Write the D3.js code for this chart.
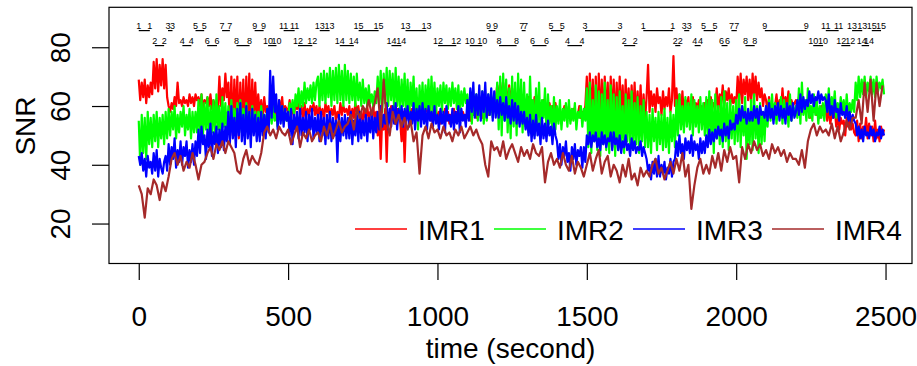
<!DOCTYPE html>
<html lang="en">
<head>
<meta charset="UTF-8">
<title>SNR</title>
<script src="https://d3js.org/d3.v7.min.js"></script>
<style>
  body { margin: 0; background: #fff; }
  text { font-family: "Liberation Sans", Arial, sans-serif; fill: #000; }
</style>
</head>
<body>
<script>
// IMR1..IMR3 read every 5 seconds, IMR4 every 10 seconds
var imr1 = [
  69,62,68,63,69,61,67,63,68,64, 75,66,76,65,74,67,76,66,74,63,
  60,58,61,59,63,60,68,61,62,60, 63,61,62,60,64,61,63,60,64,62,
  63,60,64,59,62,61,63,60,64,59, 62,60,61,59,70,60,66,62,71,63,
  68,52,70,50,69,55,70,49,68,53, 69,50,70,54,71,52,69,55,68,56,
  64,57,62,56,63,58,60,55,61,57, 58,56,60,55,62,58,63,57,60,59,
  58,62,56,60,57,61,59,62,57,60, 55,61,56,59,57,60,58,61,57,60,
  56,60,57,59,55,61,58,60,56,59, 57,60,55,58,56,61,57,60,58,59,
  57,60,55,59,56,61,58,60,56,58, 54,59,56,60,55,58,57,60,55,58,
  50,58,42,56,52,59,41,57,55,60, 58,56,54,59,57,55,48,58,41,56,
  56,60,55,59,57,61,56,60,57,61, 56,59,58,60,56,58,55,60,57,59,
  55,58,54,57,56,59,55,58,54,57, 56,59,55,58,56,60,57,58,56,57,
  56,59,55,58,57,60,56,59,57,60, 56,59,58,61,57,60,58,61,59,62,
  67,62,68,61,68,63,66,60,67,61, 66,62,64,60,65,61,63,60,62,59,
  60,63,58,62,59,63,58,62,59,61, 57,62,58,60,57,61,58,60,59,61,
  58,55,59,56,57,60,58,56,60,55, 56,59,58,55,57,60,56,58,57,60,
  70,52,71,55,69,51,70,50,71,54, 69,52,70,55,68,50,70,54,69,52,
  68,54,70,56,67,52,69,55,66,53, 67,56,68,54,65,55,67,53,64,55,
  63,74,58,65,60,64,58,66,61,63, 57,65,59,63,60,66,58,62,77,60,
  66,58,64,56,65,57,62,60,63,56, 58,63,57,61,59,62,57,60,58,61,
  58,62,57,63,59,61,60,66,58,64, 61,67,60,65,62,66,60,64,61,63,
  60,70,62,71,61,69,64,70,62,69, 61,71,63,70,62,68,63,66,60,64,
  62,58,63,57,61,59,60,64,58,62, 58,66,59,63,60,65,58,62,60,61,
  62,58,63,57,61,59,60,58,61,56, 56,59,58,60,57,59,56,60,57,59,
  58,55,60,54,57,56,59,53,57,52, 56,54,55,50,56,53,55,52,54,51,
  50,55,48,54,49,53,51,56,49,54, 50,53,48,55,49,52,48,53,50,52
]
var imr2 = [
  55,40,57,44,56,42,58,47,56,46, 57,48,58,46,56,49,57,47,58,49,
  59,50,58,52,60,49,57,51,58,53, 60,50,57,52,59,49,58,51,58,51,
  62,49,64,50,61,52,63,48,60,51, 62,50,64,52,60,48,63,53,61,50,
  60,51,62,53,59,52,61,54,62,51, 59,52,61,53,58,51,60,54,58,52,
  58,54,60,55,57,53,59,56,58,54, 60,55,57,53,59,56,60,54,58,55,
  56,61,58,62,57,64,60,66,59,65, 60,68,61,66,62,67,61,68,62,68,
  70,60,71,62,72,61,71,63,73,60, 72,62,73,61,74,62,72,60,74,62,
  72,61,71,62,70,60,71,62,68,60, 69,61,66,60,67,61,64,60,65,61,
  70,60,72,58,71,61,73,60,72,62, 71,59,73,60,70,58,69,60,71,57,
  69,55,68,60,70,57,66,52,67,58, 68,55,67,59,69,56,70,58,68,57,
  66,60,67,58,68,61,67,59,66,60, 68,61,66,59,67,58,65,60,66,61,
  64,56,65,54,63,57,64,55,62,56, 65,54,62,55,64,57,63,56,64,58,
  68,52,70,50,71,55,69,51,66,49, 70,53,68,50,71,54,69,51,68,53,
  64,51,70,54,62,50,66,53,68,52, 62,56,66,50,64,54,60,51,63,52,
  60,54,62,52,59,55,61,53,62,54, 59,55,61,52,58,56,60,53,59,55,
  66,46,68,44,62,48,67,45,65,43, 64,47,68,45,62,44,67,46,64,43,
  63,45,65,47,60,44,64,48,62,46, 65,45,61,47,63,44,60,48,62,46,
  58,46,57,44,59,48,56,45,58,47, 57,45,59,46,56,44,58,48,57,46,
  62,50,64,52,60,51,63,53,61,52, 64,50,62,53,60,51,63,52,61,50,
  63,48,65,50,62,44,64,49,60,47, 63,46,65,48,61,45,62,49,60,47,
  62,48,64,46,60,50,63,42,58,47, 62,45,64,49,60,44,61,47,58,48,
  60,53,62,55,64,56,61,54,60,57, 63,54,62,56,61,53,64,55,60,57,
  60,56,66,54,68,57,62,55,66,56, 60,55,64,57,62,54,60,56,61,55,
  64,58,66,57,63,59,65,56,61,57, 63,58,62,56,64,57,61,58,62,58,
  68,62,70,63,69,64,70,63,68,65, 70,64,69,63,70,65,68,66,69,64
]
var imr3 = [
  43,40,44,38,42,36,43,39,41,37, 44,38,45,36,42,39,37,41,43,38,
  47,40,46,42,49,39,45,41,48,40, 46,43,48,39,45,41,47,40,48,43,
  52,44,53,47,50,42,52,46,54,43, 51,47,53,44,52,46,54,45,53,48,
  58,47,60,49,56,46,59,50,61,48, 57,47,60,49,58,46,59,50,57,48,
  56,48,58,50,57,49,59,51,72,56, 70,58,64,52,62,54,60,53,59,55,
  58,50,59,47,57,52,58,49,59,50, 56,51,58,48,57,52,59,49,56,51,
  57,48,58,50,56,47,57,49,58,48, 56,50,55,41,57,48,56,50,57,49,
  56,49,58,47,55,50,57,48,58,49, 55,50,57,48,56,51,58,49,56,51,
  58,52,60,53,57,54,61,52,59,53, 60,54,61,52,59,55,60,53,59,55,
  60,53,58,54,61,52,59,55,60,53, 61,54,59,52,60,55,58,53,60,54,
  57,52,59,54,58,51,60,55,57,53, 59,52,58,54,60,51,59,55,57,53,
  62,55,66,58,68,56,64,57,67,55, 65,58,68,56,64,57,66,55,65,56,
  62,56,63,57,61,55,63,56,60,54, 62,55,61,54,60,53,58,54,58,52,
  56,50,57,48,55,49,57,50,54,47, 56,49,54,48,55,50,53,47,54,50,
  48,42,47,40,46,43,48,41,44,38, 46,42,47,40,45,43,46,39,46,41,
  50,47,51,46,50,48,51,46,49,45, 51,47,50,46,49,48,51,45,51,47,
  49,45,50,44,48,46,50,45,47,43, 49,45,48,44,46,45,48,43,46,44,
  42,38,40,35,41,37,42,36,43,36, 40,37,41,35,39,37,42,36,41,42,
  48,43,50,44,47,42,49,45,48,44, 50,43,48,45,47,42,49,44,48,44,
  50,46,52,47,51,48,52,49,53,50, 52,48,54,50,53,49,55,52,54,52,
  57,54,59,55,60,56,58,54,59,55, 58,55,60,56,59,54,60,57,58,56,
  60,55,61,56,59,54,60,57,61,55, 60,56,59,54,61,57,60,55,61,56,
  58,62,57,64,58,63,59,62,60,65, 61,64,60,63,62,65,61,64,62,63,
  62,58,64,57,60,56,62,58,59,55, 61,57,58,56,60,55,58,54,57,55,
  54,50,53,49,52,48,53,50,51,49, 53,50,52,48,51,50,53,49,52,50
]
var imr4 = [
  33,30,22,32,30,35,33,28,34,31, 36,42,44,40,43,38,41,39,44,40,
  35,40,41,44,46,42,47,45,48,44, 48,46,44,38,37,42,45,40,43,41,
  40,44,51,53,50,52,49,53,51,50, 52,47,50,53,46,51,49,52,48,50,
  51,48,53,50,54,49,52,55,51,53, 54,57,52,59,56,60,58,62,57,61,
  66,52,69,55,50,58,54,57,53,56, 52,55,48,51,37,50,53,49,54,51,
  52,49,53,50,51,48,52,50,53,49, 51,53,50,52,49,47,40,36,48,45,
  46,43,48,42,45,47,44,41,46,43, 45,42,47,44,43,46,34,41,44,40,
  42,39,44,40,38,43,37,41,39,36, 40,44,38,42,45,37,41,43,36,40,
  38,34,40,36,42,35,37,33,39,36, 38,36,40,42,37,39,35,38,41,37,
  42,38,44,36,40,25,33,39,42,37, 40,37,43,39,44,38,45,41,46,42,
  43,34,46,42,47,44,48,45,47,43, 45,42,47,44,46,43,45,41,44,42,
  42,40,45,39,48,52,54,50,53,51, 52,50,54,49,53,48,51,55,52,56,
  56,62,54,68,58,69,55,68,60,67
]

var seriesNames = ["IMR1", "IMR2", "IMR3", "IMR4"]
var seriesColors = ["#ff0000", "#00ff00", "#0000ff", "#a52a2a"]
var seriesData = [imr1, imr2, imr3, imr4]
var seriesStep = [5, 5, 5, 10]

// marked intervals (seconds) drawn along the top
var segLabel = [1,3,5,7,9,11,13,15,13,9,7,5,3,1,3,5,7,9,11,13,15,
                2,4,6,8,10,12,14,14,12,10,8,6,4,2,2,4,6,8,10,12,14]
var segStart = [0,98,190,279,388,485,606,736,893,1171,1282,1380,1494,1689,1826,1891,1984,2096,2300,2388,2454,
                54,146,229,327,433,533,673,846,1002,1108,1206,1318,1435,1625,1796,1861,1951,2031,2258,2352,2420]
var segEnd   = [37,113,219,305,418,522,639,803,963,1194,1295,1418,1611,1788,1843,1929,2002,2235,2343,2422,2485,
                85,176,262,371,461,581,720,879,1063,1150,1265,1365,1484,1662,1813,1881,1971,2062,2291,2382,2445]

var xTicks = [0, 500, 1000, 1500, 2000, 2500]
var yTicks = [20, 40, 60, 80]

var width = 917, height = 366
var plotLeft = 109, plotRight = 912, plotTop = 7.3, plotBottom = 263.5

var svg = d3.select("body").append("svg")
    .attr("width", width)
    .attr("height", height)

var x = d3.scaleLinear().domain([-99.6, 2588.6]).range([plotLeft, plotRight])
var y = d3.scaleLinear().domain([6.4, 93.6]).range([plotBottom, plotTop])

svg.append("g")
    .selectAll("path")
    .data(seriesData)
    .enter().append("path")
    .attr("d", function (vals, s) {
        return d3.line()
            .x(function (d, i) { return x(i * seriesStep[s]) })
            .y(function (d) { return y(d) })(vals)
    })
    .attr("fill", "none")
    .attr("stroke", function (d, i) { return seriesColors[i] })
    .attr("stroke-width", 2.2)
    .attr("stroke-linejoin", "round")

// interval marks: odd labels on the upper row, even labels below
var marks = svg.append("g")
for (var k = 0; k < segLabel.length; k++) {
    var base = segLabel[k] % 2 == 1 ? 29.3 : 44.3
    marks.append("line")
        .attr("x1", x(segStart[k])).attr("x2", x(segEnd[k]))
        .attr("y1", base + 1.3).attr("y2", base + 1.3)
        .attr("stroke", "black").attr("stroke-width", 1.2)
    marks.append("text").text(segLabel[k])
        .attr("x", x(segStart[k])).attr("y", base)
        .attr("text-anchor", "middle").attr("font-size", 9)
    marks.append("text").text(segLabel[k])
        .attr("x", x(segEnd[k])).attr("y", base)
        .attr("text-anchor", "middle").attr("font-size", 9)
}

// box
svg.append("rect")
    .attr("x", plotLeft).attr("y", plotTop)
    .attr("width", plotRight - plotLeft).attr("height", plotBottom - plotTop)
    .attr("fill", "none").attr("stroke", "black").attr("stroke-width", 1.2)

// x axis
var xa = svg.append("g")
    .attr("transform", "translate(0," + plotBottom + ")")
    .call(d3.axisBottom(x).tickValues(xTicks).tickSize(16.5).tickFormat(d3.format("d")))
xa.select(".domain").remove()
xa.selectAll("line").attr("stroke-width", 1.2)
xa.selectAll("text")
    .attr("y", 62.2).attr("dy", 0)
    .attr("font-size", 28)
    .attr("font-family", "Liberation Sans, Arial, sans-serif")

// y axis
var ya = svg.append("g")
    .attr("transform", "translate(" + plotLeft + ",0)")
    .call(d3.axisLeft(y).tickValues(yTicks).tickSize(17))
ya.select(".domain").remove()
ya.selectAll("line").attr("stroke-width", 1.2)
ya.selectAll("text")
    .attr("x", 0).attr("dy", 0)
    .attr("text-anchor", "middle")
    .attr("transform", "translate(-39,0) rotate(-90)")
    .attr("font-size", 28)
    .attr("font-family", "Liberation Sans, Arial, sans-serif")

svg.append("text").text("time (second)")
    .attr("x", (plotLeft + plotRight) / 2).attr("y", 357.7)
    .attr("text-anchor", "middle").attr("font-size", 28)

svg.append("text").text("SNR")
    .attr("transform", "translate(35,126) rotate(-90)")
    .attr("text-anchor", "middle").attr("font-size", 28)

// legend
var legend = svg.append("g")
    .selectAll("g")
    .data(seriesNames)
    .enter().append("g")
    .attr("transform", function (d, i) { return "translate(" + (355 + i * 139) + ",229)" })
legend.append("line")
    .attr("x1", 0).attr("x2", 52)
    .attr("y1", 0).attr("y2", 0)
    .attr("stroke", function (d) { return seriesColors[seriesNames.indexOf(d)] })
    .attr("stroke-width", 1.4)
legend.append("text").text(function (d) { return d })
    .attr("x", 63).attr("y", 11)
    .attr("font-size", 28)
</script>
</body>
</html>
